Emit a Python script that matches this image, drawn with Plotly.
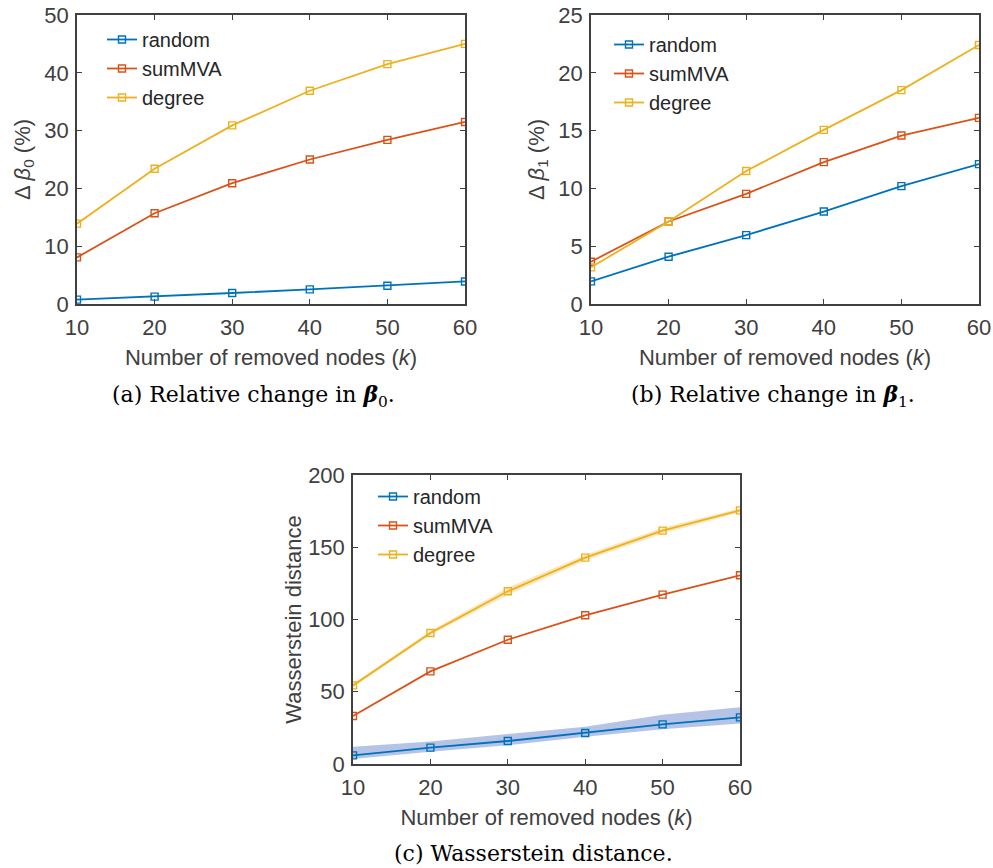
import plotly.graph_objects as go

W, H = 993, 868

def px_x(px):
    return px / W

def px_y(py):
    return 1 - py / H

k = [10, 20, 30, 40, 50, 60]
series_names = ["random", "sumMVA", "degree"]
colors = {"random": "#0072BD", "sumMVA": "#D95319", "degree": "#EDB120"}

# (a) relative change in beta_0 (%)
beta0_random = [0.75, 1.27, 1.9, 2.53, 3.17, 3.9]
beta0_summva = [8.06, 15.7, 20.9, 25.0, 28.4, 31.5]
beta0_degree = [13.9, 23.4, 30.9, 36.9, 41.5, 45.0]

# (b) relative change in beta_1 (%)
beta1_random = [1.96, 4.09, 5.96, 8.0, 10.2, 12.1]
beta1_summva = [3.66, 7.14, 9.53, 12.27, 14.57, 16.1]
beta1_degree = [3.17, 7.14, 11.5, 15.06, 18.5, 22.4]

# (c) Wasserstein distance
wd_random = [6.0, 11.3, 15.9, 21.5, 27.4, 32.3]
wd_random_hi = [12.0, 15.5, 20.8, 25.8, 34.0, 39.2]
wd_random_lo = [3.5, 8.5, 12.9, 18.9, 24.0, 28.0]
wd_summva = [33.2, 64.1, 86.0, 102.9, 117.2, 130.6]
wd_degree = [54.4, 90.7, 119.5, 142.8, 161.5, 175.5]
wd_degree_hi = [55.6, 92.2, 122.0, 144.8, 163.5, 177.0]
wd_degree_lo = [53.2, 89.2, 117.0, 140.8, 159.5, 174.0]

x_ticks = [10, 20, 30, 40, 50, 60]
y_ticks_a = [0, 10, 20, 30, 40, 50]
y_ticks_b = [0, 5, 10, 15, 20, 25]
y_ticks_c = [0, 50, 100, 150, 200]

fig = go.Figure()

def add_band(xa, ya, lo, hi, color):
    fig.add_trace(go.Scatter(
        x=k + k[::-1], y=hi + lo[::-1], xaxis=xa, yaxis=ya,
        fill="toself", fillcolor=color, line=dict(width=0),
        mode="lines", hoverinfo="skip", showlegend=False))

def add_series(xa, ya, values, name, legend):
    fig.add_trace(go.Scatter(
        x=k, y=values, name=name, xaxis=xa, yaxis=ya, legend=legend,
        mode="lines+markers",
        line=dict(color=colors[name], width=1.8),
        marker=dict(symbol="square-open", size=7, color=colors[name],
                    line=dict(width=1.4, color=colors[name]))))

add_series("x", "y", beta0_random, "random", "legend")
add_series("x", "y", beta0_summva, "sumMVA", "legend")
add_series("x", "y", beta0_degree, "degree", "legend")

add_series("x2", "y2", beta1_random, "random", "legend2")
add_series("x2", "y2", beta1_summva, "sumMVA", "legend2")
add_series("x2", "y2", beta1_degree, "degree", "legend2")

add_band("x3", "y3", wd_random_lo, wd_random_hi, "rgba(120,145,210,0.55)")
add_band("x3", "y3", wd_degree_lo, wd_degree_hi, "rgba(237,177,32,0.30)")
add_series("x3", "y3", wd_random, "random", "legend3")
add_series("x3", "y3", wd_summva, "sumMVA", "legend3")
add_series("x3", "y3", wd_degree, "degree", "legend3")

axis_color = "#404040"
tick_font = dict(family="Liberation Sans, Arial, sans-serif", size=22, color="#404040")
title_font = dict(family="Liberation Sans, Arial, sans-serif", size=22, color="#404040")

def xaxis_cfg(domain, anchor):
    return dict(domain=domain, anchor=anchor, range=[10, 60], tickvals=x_ticks,
                ticks="inside", ticklen=5, tickwidth=1.2, tickcolor=axis_color,
                showline=True, linecolor=axis_color, linewidth=1.5, mirror="ticks",
                showgrid=False, zeroline=False, tickfont=tick_font, automargin=False,
                ticklabelstandoff=3, ticklabeloverflow="allow",
                title=dict(text="Number of removed nodes (<i>k</i>)", font=title_font, standoff=10))

def yaxis_cfg(domain, anchor, rng, ticks, title, standoff):
    return dict(domain=domain, anchor=anchor, range=rng, tickvals=ticks,
                ticks="inside", ticklen=5, tickwidth=1.2, tickcolor=axis_color,
                showline=True, linecolor=axis_color, linewidth=1.5, mirror="ticks",
                showgrid=False, zeroline=False, tickfont=tick_font, automargin=False,
                ticklabelstandoff=2, ticklabeloverflow="allow",
                title=dict(text=title, font=title_font, standoff=standoff))

ya_dom = [px_y(304), px_y(15)]
yc_dom = [px_y(764), px_y(475)]

legend_font = dict(family="Liberation Sans, Arial, sans-serif", size=20, color="#262626")
def legend_cfg(xpx, ypx):
    return dict(x=px_x(xpx), y=px_y(ypx), xanchor="left", yanchor="top",
                bgcolor="rgba(0,0,0,0)", borderwidth=0, font=legend_font,
                tracegroupgap=0, itemwidth=30)

caption_font = dict(family="DejaVu Serif, serif", size=22, color="#000000")

fig.update_layout(
    width=W, height=H, margin=dict(l=0, r=0, t=0, b=0),
    paper_bgcolor="white", plot_bgcolor="white",
    xaxis=xaxis_cfg([px_x(77), px_x(465)], "y"),
    yaxis=yaxis_cfg(ya_dom, "x", [0, 50], y_ticks_a, "Δ <i>β</i><sub>0</sub> (%)", 8),
    xaxis2=xaxis_cfg([px_x(591), px_x(979)], "y2"),
    yaxis2=yaxis_cfg(ya_dom, "x2", [0, 25], y_ticks_b, "Δ <i>β</i><sub>1</sub> (%)", 8),
    xaxis3=xaxis_cfg([px_x(353), px_x(740)], "y3"),
    yaxis3=yaxis_cfg(yc_dom, "x3", [0, 200], y_ticks_c, "Wasserstein distance", 0),
    legend=legend_cfg(102, 20),
    legend2=legend_cfg(609, 25),
    legend3=legend_cfg(373, 477),
    annotations=[
        dict(text="(a) Relative change in <b><i>β</i></b><sub>0</sub>.", x=px_x(253), y=px_y(396),
             xref="paper", yref="paper", showarrow=False, font=caption_font,
             xanchor="center", yanchor="middle"),
        dict(text="(b) Relative change in <b><i>β</i></b><sub>1</sub>.", x=px_x(773), y=px_y(396),
             xref="paper", yref="paper", showarrow=False, font=caption_font,
             xanchor="center", yanchor="middle"),
        dict(text="(c) Wasserstein distance.", x=px_x(533), y=px_y(853),
             xref="paper", yref="paper", showarrow=False, font=caption_font,
             xanchor="center", yanchor="middle"),
    ],
)

# remove the browser's default 8px body margin so the figure fills the window
fig.write_html("out.html", config={"displayModeBar": False},
               post_script="document.body.style.margin='0px';")
